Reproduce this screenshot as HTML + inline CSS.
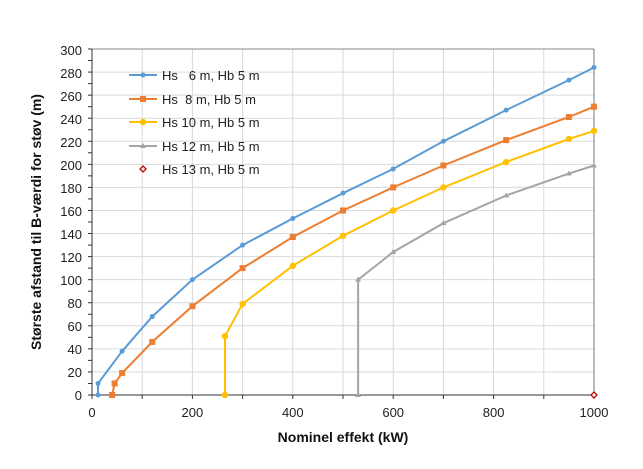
<!DOCTYPE html>
<html><head><meta charset="utf-8"><style>
html,body{margin:0;padding:0;background:#fff;width:643px;height:469px;overflow:hidden}
svg{display:block;font-family:"Liberation Sans",Calibri,sans-serif}
text{white-space:pre}
</style></head><body>
<svg id="c" width="643" height="469" viewBox="0 0 643 469" xmlns="http://www.w3.org/2000/svg">
<g id="grid"></g>
<g font-size="13" fill="#222" text-anchor="end" id="yl">
<text x="82" y="400">0</text><text x="82" y="377">20</text><text x="82" y="354">40</text><text x="82" y="331">60</text><text x="82" y="308">80</text><text x="82" y="285">100</text><text x="82" y="262">120</text><text x="82" y="239">140</text><text x="82" y="216">160</text><text x="82" y="193">180</text><text x="82" y="170">200</text><text x="82" y="147">220</text><text x="82" y="124">240</text><text x="82" y="101">260</text><text x="82" y="78">280</text><text x="82" y="55">300</text>
</g>
<g font-size="13" fill="#222" text-anchor="middle">
<text x="92" y="417">0</text><text x="192.4" y="417">200</text><text x="292.8" y="417">400</text><text x="393.2" y="417">600</text><text x="493.6" y="417">800</text><text x="594" y="417">1000</text>
</g>
<text x="343" y="442" font-size="14" font-weight="bold" text-anchor="middle" fill="#111">Nominel effekt (kW)</text>
<text transform="translate(41,222) rotate(-90)" font-size="14" font-weight="bold" text-anchor="middle" fill="#111">Største afstand til B-værdi for støv (m)</text>
<g id="series"></g>
<g font-size="13" fill="#222">
<line x1="129" y1="75" x2="157" y2="75" stroke="#5B9BD5" stroke-width="2"/><circle cx="143" cy="75" r="2.5" fill="#5B9BD5"/>
<text x="162" y="80">Hs &#160; 6 m, Hb 5 m</text>
<line x1="129" y1="99" x2="157" y2="99" stroke="#ED7D31" stroke-width="2"/><rect x="140" y="96" width="6" height="6" fill="#ED7D31"/>
<text x="162" y="104">Hs &#160;8 m, Hb 5 m</text>
<line x1="129" y1="122" x2="157" y2="122" stroke="#FFC000" stroke-width="2"/><circle cx="143" cy="122" r="3.2" fill="#FFC000"/>
<text x="162" y="127">Hs 10 m, Hb 5 m</text>
<line x1="129" y1="146" x2="157" y2="146" stroke="#A5A5A5" stroke-width="2"/><path d="M143,143 L146,148 L140,148Z" fill="#A5A5A5"/>
<text x="162" y="151">Hs 12 m, Hb 5 m</text>
<path d="M143,166 L146,169 L143,172 L140,169Z" fill="none" stroke="#C00000" stroke-width="1.3"/>
<text x="162" y="174">Hs 13 m, Hb 5 m</text>
</g>
</svg>
<script>
var X=function(v){return 92+v*0.502},Y=function(v){return 395-v*346/300};
var g='';
for(var i=20;i<=300;i+=20)g+='<line x1="92" x2="594" y1="'+Y(i)+'" y2="'+Y(i)+'" stroke="#d9d9d9"/>';
for(var i=100;i<1000;i+=100)g+='<line y1="49" y2="395" x1="'+X(i)+'" x2="'+X(i)+'" stroke="#d9d9d9"/>';
g+='<line x1="92" x2="594" y1="49" y2="49" stroke="#888"/><line x1="594" x2="594" y1="49" y2="395" stroke="#777"/>';
g+='<line x1="92" x2="92" y1="49" y2="395" stroke="#333"/><line x1="92" x2="594" y1="395" y2="395" stroke="#333"/>';
for(var i=0;i<=300;i+=10)g+='<line x1="88" x2="92" y1="'+Y(i)+'" y2="'+Y(i)+'" stroke="#333"/>';
for(var i=0;i<=1000;i+=100)g+='<line y1="395" y2="399" x1="'+X(i)+'" x2="'+X(i)+'" stroke="#333"/>';
document.getElementById('grid').innerHTML=g;
var S=[
["#5B9BD5","c",[[12,0],[12,10],[60,38],[120,68],[200,100],[300,130],[400,153],[500,175],[600,196],[700,220],[825,247],[950,273],[1000,284]]],
["#ED7D31","s",[[40,0],[45,10],[60,19],[120,46],[200,77],[300,110],[400,137],[500,160],[600,180],[700,199],[825,221],[950,241],[1000,250]]],
["#FFC000","C",[[265,0],[265,51],[300,79],[400,112],[500,138],[600,160],[700,180],[825,202],[950,222],[1000,229]]],
["#A5A5A5","t",[[530,0],[530,100],[600,124],[700,149],[825,173],[950,192],[1000,199]]]];
var s='';
S.forEach(function(a){var p=a[2].map(function(q){return X(q[0]).toFixed(1)+','+Y(q[1]).toFixed(1)}).join(' ');
s+='<polyline points="'+p+'" fill="none" stroke="'+a[0]+'" stroke-width="2"/>';
a[2].forEach(function(q){var x=X(q[0]),y=Y(q[1]);
if(a[1]=='c')s+='<circle cx="'+x+'" cy="'+y+'" r="2.5" fill="'+a[0]+'"/>';
else if(a[1]=='s')s+='<rect x="'+(x-3)+'" y="'+(y-3)+'" width="6" height="6" fill="'+a[0]+'"/>';
else if(a[1]=='C')s+='<circle cx="'+x+'" cy="'+y+'" r="3.2" fill="'+a[0]+'"/>';
else s+='<path d="M'+x+','+(y-3)+' L'+(x+3)+','+(y+2)+' L'+(x-3)+','+(y+2)+'Z" fill="'+a[0]+'"/>';});});
s+='<path d="M594,392 L597,395 L594,398 L591,395Z" fill="#fff" stroke="#C00000" stroke-width="1.3"/>';
document.getElementById('series').innerHTML=s;
</script>
</body></html>
